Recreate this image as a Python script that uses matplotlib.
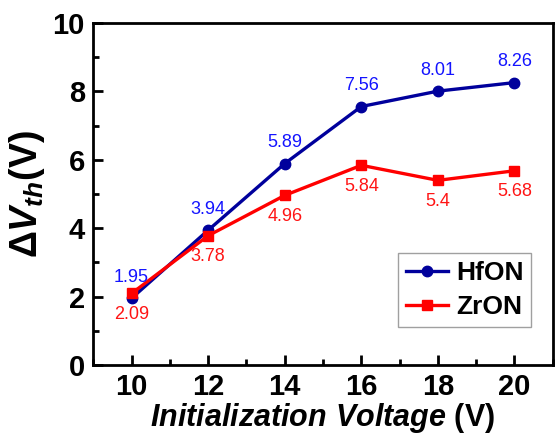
import numpy as np
import matplotlib
matplotlib.use('Agg')
import matplotlib.pyplot as plt
from matplotlib.ticker import MultipleLocator

plt.rcParams['font.family'] = 'Liberation Sans'
plt.rcParams['mathtext.fontset'] = 'custom'
plt.rcParams['mathtext.rm'] = 'Liberation Sans:bold'
plt.rcParams['mathtext.it'] = 'Liberation Sans:bold:italic'
plt.rcParams['mathtext.bf'] = 'Liberation Sans:bold'

voltage = [10, 12, 14, 16, 18, 20]
hfon = [1.95, 3.94, 5.89, 7.56, 8.01, 8.26]
zron = [2.09, 3.78, 4.96, 5.84, 5.4, 5.68]

fig = plt.figure(figsize=(5.55, 4.36), dpi=100)
ax = fig.add_axes([0.168, 0.163, 0.828, 0.784])

ax.plot(voltage, hfon, '-o', color='#00009C', lw=2.4, ms=7.5, label='HfON')
ax.plot(voltage, zron, '-s', color='#FF0000', lw=2.4, ms=7, label='ZrON')

# value labels: HfON above the points, ZrON below
for x, y in zip(voltage, hfon):
    ax.annotate(f'{y:g}', (x, y), xytext=(0, 9), textcoords='offset points',
                ha='center', va='bottom', color='#1414FF', fontsize=13)
for x, y in zip(voltage, zron):
    ax.annotate(f'{y:g}', (x, y), xytext=(0, -9), textcoords='offset points',
                ha='center', va='top', color='#FF1414', fontsize=13)

ax.set_xlim(9, 21)
ax.set_ylim(0, 10)
ax.xaxis.set_major_locator(MultipleLocator(2))
ax.xaxis.set_minor_locator(MultipleLocator(1))
ax.yaxis.set_major_locator(MultipleLocator(2))
ax.yaxis.set_minor_locator(MultipleLocator(1))
ax.tick_params(which='both', direction='in', top=False, right=False, width=2)
ax.tick_params(which='major', length=7, labelsize=21, pad=6)
ax.tick_params(which='minor', length=4)
for lab in ax.get_xticklabels() + ax.get_yticklabels():
    lab.set_fontweight('bold')
for sp in ax.spines.values():
    sp.set_linewidth(2)

ax.set_xlabel(r'$Initialization\ Voltage$ (V)', fontsize=22, fontweight='bold',
              labelpad=0)
ax.set_ylabel(r'$\mathit{\Delta V_{th}}$(V)', fontsize=27, fontweight='bold', labelpad=4)

leg = ax.legend(loc='lower right', bbox_to_anchor=(0.953, 0.11),
                prop={'weight': 'bold', 'size': 19}, fancybox=False,
                edgecolor='#888888', handlelength=1.6, handletextpad=0.3,
                borderpad=0.3, labelspacing=0.4, borderaxespad=0)
leg.get_frame().set_linewidth(1)

plt.savefig('out.png', dpi=100)
